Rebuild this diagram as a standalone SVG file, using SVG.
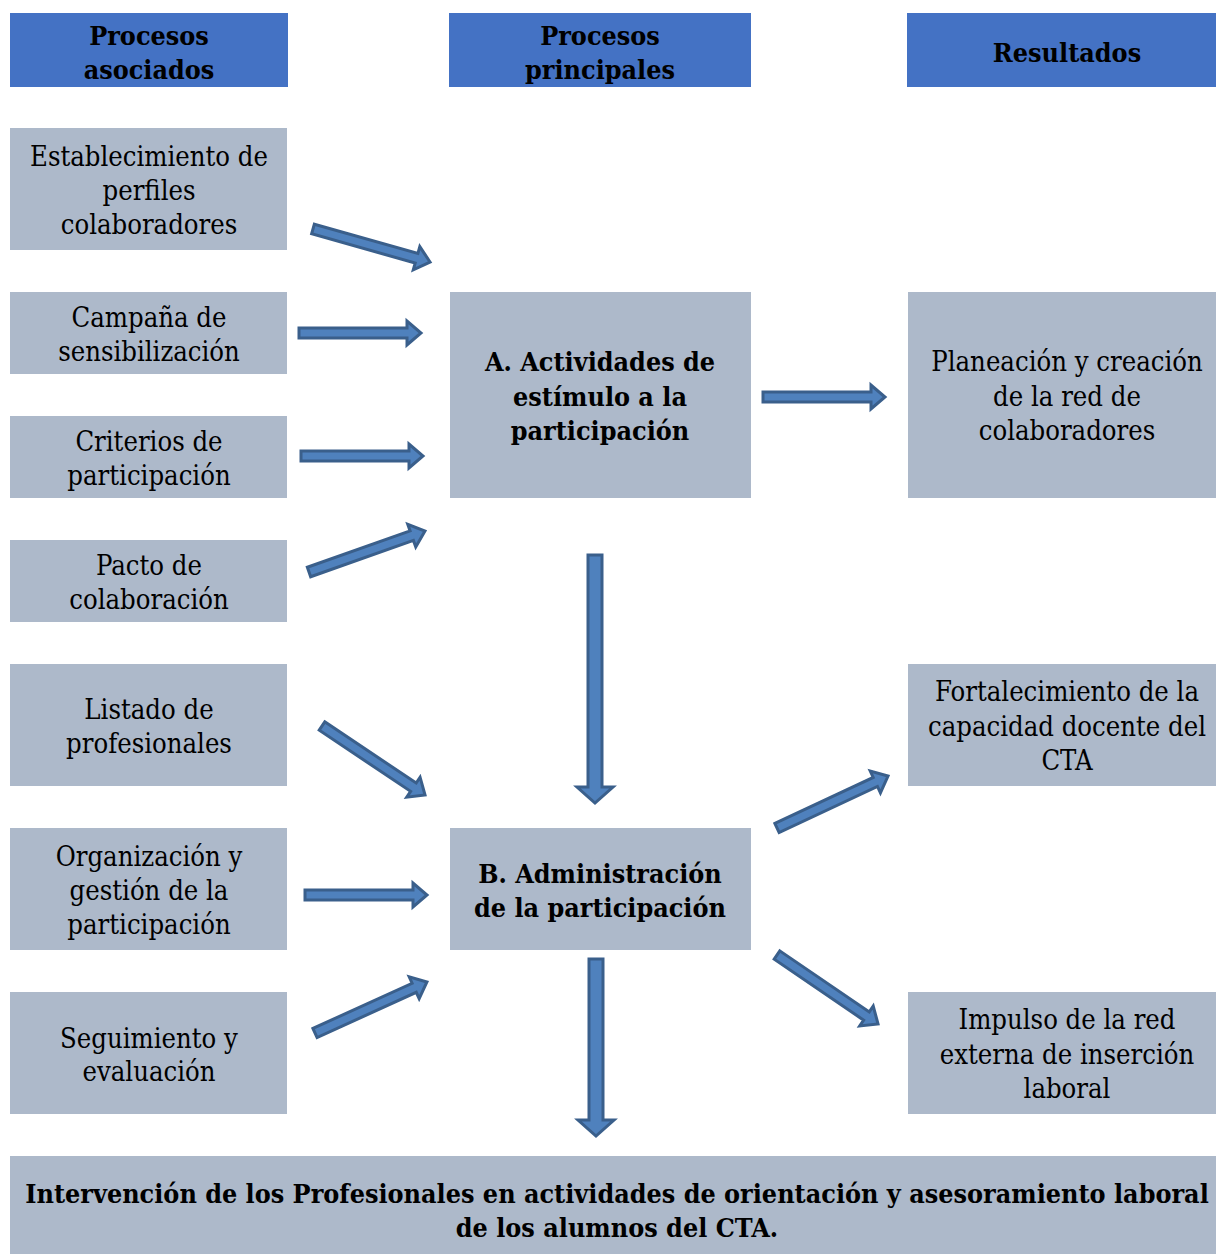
<svg xmlns="http://www.w3.org/2000/svg" width="1216" height="1254" viewBox="0 0 1216 1254">
<style>
.hd{fill:#4472C4}
.bx{fill:#ADB9CA}
text{font-family:"DejaVu Serif Condensed","DejaVu Serif","Liberation Serif",serif;font-size:27.2px;fill:#000;text-anchor:middle}
.b{font-weight:bold;font-size:26.7px}
.ar{fill:#4F81BD;stroke:#3A5F8B;stroke-width:3;stroke-linejoin:miter}
</style>
<rect width="1216" height="1254" fill="#fff"/>
<g id="h1"><rect class="hd" x="10" y="13" width="278" height="74"/><text class="b" x="149" y="45">Procesos</text><text class="b" x="149" y="79">asociados</text></g>
<g id="h2"><rect class="hd" x="449" y="13" width="302" height="74"/><text class="b" x="600" y="45">Procesos</text><text class="b" x="600" y="79">principales</text></g>
<g id="h3"><rect class="hd" x="907" y="13" width="309" height="74"/><text class="b" x="1067" y="62">Resultados</text></g>

<g id="l1"><rect class="bx" x="10" y="128" width="277" height="122"/><text x="149" y="166">Establecimiento de</text><text x="149" y="200">perfiles</text><text x="149" y="234">colaboradores</text></g>
<g id="l2"><rect class="bx" x="10" y="292" width="277" height="82"/><text x="149" y="327">Campaña de</text><text x="149" y="361">sensibilización</text></g>
<g id="l3"><rect class="bx" x="10" y="416" width="277" height="82"/><text x="149" y="451">Criterios de</text><text x="149" y="485">participación</text></g>
<g id="l4"><rect class="bx" x="10" y="540" width="277" height="82"/><text x="149" y="575">Pacto de</text><text x="149" y="609">colaboración</text></g>
<g id="l5"><rect class="bx" x="10" y="664" width="277" height="122"/><text x="149" y="719">Listado de</text><text x="149" y="753">profesionales</text></g>
<g id="l6"><rect class="bx" x="10" y="828" width="277" height="122"/><text x="149" y="866">Organización y</text><text x="149" y="900">gestión de la</text><text x="149" y="934">participación</text></g>
<g id="l7"><rect class="bx" x="10" y="992" width="277" height="122"/><text x="149" y="1048">Seguimiento y</text><text x="149" y="1081">evaluación</text></g>

<g id="mA"><rect class="bx" x="450" y="292" width="301" height="206"/><text class="b" x="600" y="371">A. Actividades de</text><text class="b" x="600" y="406">estímulo a la</text><text class="b" x="600" y="440">participación</text></g>
<g id="mB"><rect class="bx" x="450" y="828" width="301" height="122"/><text class="b" x="600" y="883">B. Administración</text><text class="b" x="600" y="917">de la participación</text></g>

<g id="r1"><rect class="bx" x="908" y="292" width="308" height="206"/><text x="1067" y="371">Planeación y creación</text><text x="1067" y="406">de la red de</text><text x="1067" y="440">colaboradores</text></g>
<g id="r2"><rect class="bx" x="908" y="664" width="308" height="122"/><text x="1067" y="701">Fortalecimiento de la</text><text x="1067" y="736">capacidad docente del</text><text x="1067" y="770">CTA</text></g>
<g id="r3"><rect class="bx" x="908" y="992" width="308" height="122"/><text x="1067" y="1029">Impulso de la red</text><text x="1067" y="1064">externa de inserción</text><text x="1067" y="1098">laboral</text></g>

<g id="bottom"><rect class="bx" x="10" y="1156" width="1206" height="98"/><text class="b" x="617" y="1203">Intervención de los Profesionales en actividades de orientación y asesoramiento laboral</text><text class="b" x="617" y="1237">de los alumnos del CTA.</text></g>

<g id="connectors">
<path class="ar" transform="translate(313,229) rotate(15.75)" d="M0,-5H107.6V-12L121.6,0L107.6,12V5H0Z"/>
<path class="ar" transform="translate(299,333)" d="M0,-5H108V-12L122,0L108,12V5H0Z"/>
<path class="ar" transform="translate(301,456)" d="M0,-5H108V-12L122,0L108,12V5H0Z"/>
<path class="ar" transform="translate(309,572) rotate(-19.47)" d="M0,-5H109V-12L123,0L109,12V5H0Z"/>
<path class="ar" transform="translate(322,726) rotate(33.8)" d="M0,-5H110V-12L124,0L110,12V5H0Z"/>
<path class="ar" transform="translate(305,895)" d="M0,-5H108V-12L122,0L108,12V5H0Z"/>
<path class="ar" transform="translate(315,1033) rotate(-24.5)" d="M0,-5H109V-12L123,0L109,12V5H0Z"/>
<path class="ar" transform="translate(595,555) rotate(90)" d="M0,-7H232V-18L248,0L232,18V7H0Z"/>
<path class="ar" transform="translate(763,397)" d="M0,-5H108V-12L122,0L108,12V5H0Z"/>
<path class="ar" transform="translate(777,828) rotate(-25.1)" d="M0,-5H108.6V-12L122.6,0L108.6,12V5H0Z"/>
<path class="ar" transform="translate(777,955) rotate(34.3)" d="M0,-5H108.3V-12L122.3,0L108.3,12V5H0Z"/>
<path class="ar" transform="translate(596,959) rotate(90)" d="M0,-7H161V-18L177,0L161,18V7H0Z"/>
</g>
</svg>
